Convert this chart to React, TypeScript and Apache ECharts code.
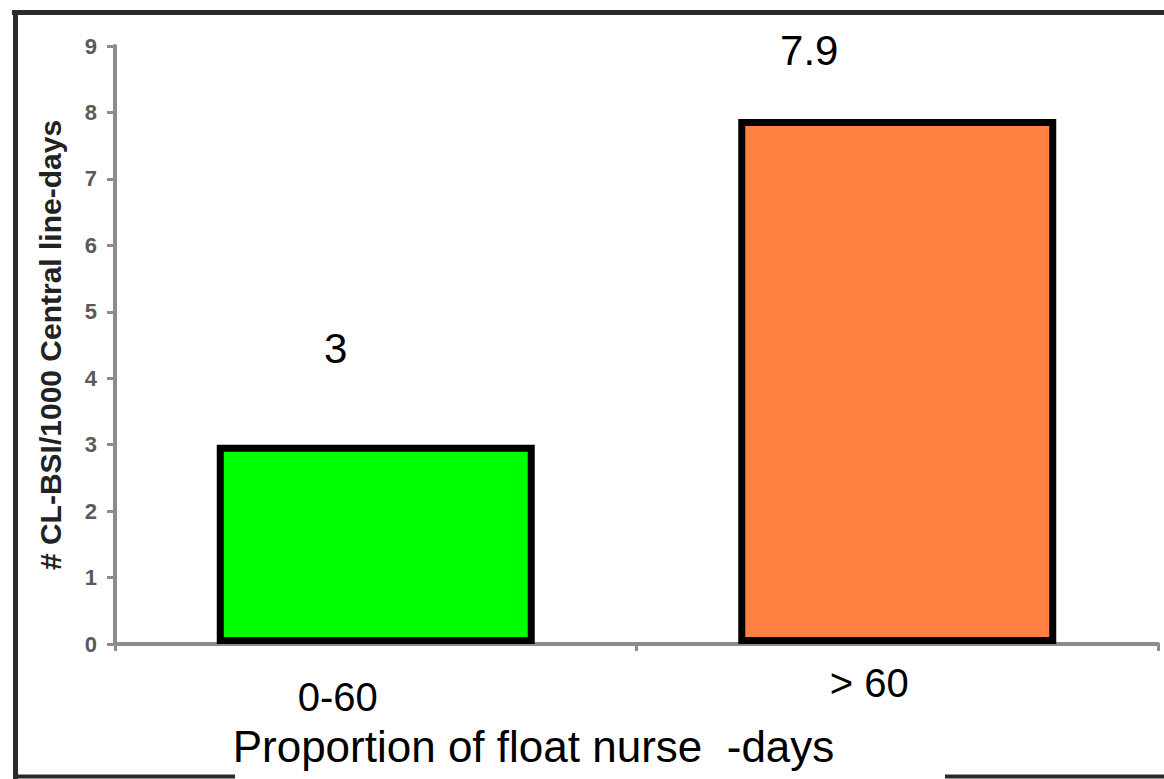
import React, { useEffect, useRef } from "react";
import * as echarts from "echarts";

const categories = ["0-60", "> 60"];
const values = [3, 7.9];
const barColors = ["#00ff00", "#ff8040"];
const yMin = 0;
const yMax = 9;
const yInterval = 1;
const xTitle = "Proportion of float nurse  -days";
const yTitle = "# CL-BSI/1000 Central line-days";

// label placement tweaks (style, not data)
const labelOffsets = [
  [-40, -70],
  [-88, -43],
];

export default function App() {
  const ref = useRef<HTMLDivElement>(null);
  useEffect(() => {
    if (!ref.current) return;
    const chart = echarts.init(ref.current, null, { renderer: "svg" });
    const sans = "'Liberation Sans', Arial, sans-serif";
    chart.setOption({
      animation: false,
      backgroundColor: "#ffffff",
      grid: { left: 115, right: 6, top: 46, bottom: 135 },
      xAxis: {
        type: "category",
        data: categories,
        axisLine: { lineStyle: { color: "#8c8c8c", width: 4 } },
        axisTick: { show: true, length: 7, lineStyle: { color: "#8c8c8c", width: 3 } },
        axisLabel: {
          margin: 19,
          formatter: (v: string, i: number) => (i === 0 ? `{a|${v}}` : `{b|${v}}`),
          rich: {
            a: { fontSize: 40, fontFamily: sans, color: "#000", padding: [14, 76, 0, 0] },
            b: { fontSize: 40, fontFamily: sans, color: "#000", padding: [0, 56, 0, 0] },
          },
        },
        name: xTitle,
        nameLocation: "middle",
        nameGap: 80,
        nameTextStyle: {
          fontSize: 44,
          fontFamily: sans,
          color: "#000",
          padding: [0, 206, 0, 0],
        },
      },
      yAxis: {
        type: "value",
        min: yMin,
        max: yMax,
        interval: yInterval,
        splitLine: { show: false },
        axisLine: { show: true, lineStyle: { color: "#8c8c8c", width: 4 } },
        axisTick: { show: true, length: 8, lineStyle: { color: "#8c8c8c", width: 3 } },
        axisLabel: {
          margin: 18,
          fontSize: 22,
          fontWeight: "bold",
          fontFamily: sans,
          color: "#5a5a5a",
        },
        name: yTitle,
        nameLocation: "middle",
        nameGap: 50,
        nameTextStyle: {
          fontSize: 30,
          fontWeight: "bold",
          fontFamily: sans,
          color: "#222",
        },
      },
      series: [
        {
          type: "bar",
          barWidth: 318,
          data: values.map((v, i) => ({
            value: v,
            itemStyle: { color: barColors[i], borderColor: "#000", borderWidth: 7 },
            label: {
              show: true,
              position: "top",
              offset: labelOffsets[i],
              fontSize: 42,
              fontFamily: sans,
              color: "#000",
            },
          })),
        },
      ],
      graphic: [
        { type: "line", shape: { x1: 12, y1: 12.5, x2: 1164, y2: 12.5 }, style: { stroke: "#2a2a2a", lineWidth: 5 } },
        { type: "line", shape: { x1: 15.5, y1: 10, x2: 15.5, y2: 779 }, style: { stroke: "#2a2a2a", lineWidth: 5 } },
        { type: "line", shape: { x1: 13, y1: 776.5, x2: 235, y2: 776.5 }, style: { stroke: "#2a2a2a", lineWidth: 4 } },
        { type: "line", shape: { x1: 945, y1: 776.5, x2: 1164, y2: 776.5 }, style: { stroke: "#2a2a2a", lineWidth: 4 } },
      ],
    });
    return () => chart.dispose();
  }, []);
  return (
    <div
      ref={ref}
      style={{ position: "fixed", left: 0, top: 0, width: 1164, height: 779 }}
    />
  );
}
